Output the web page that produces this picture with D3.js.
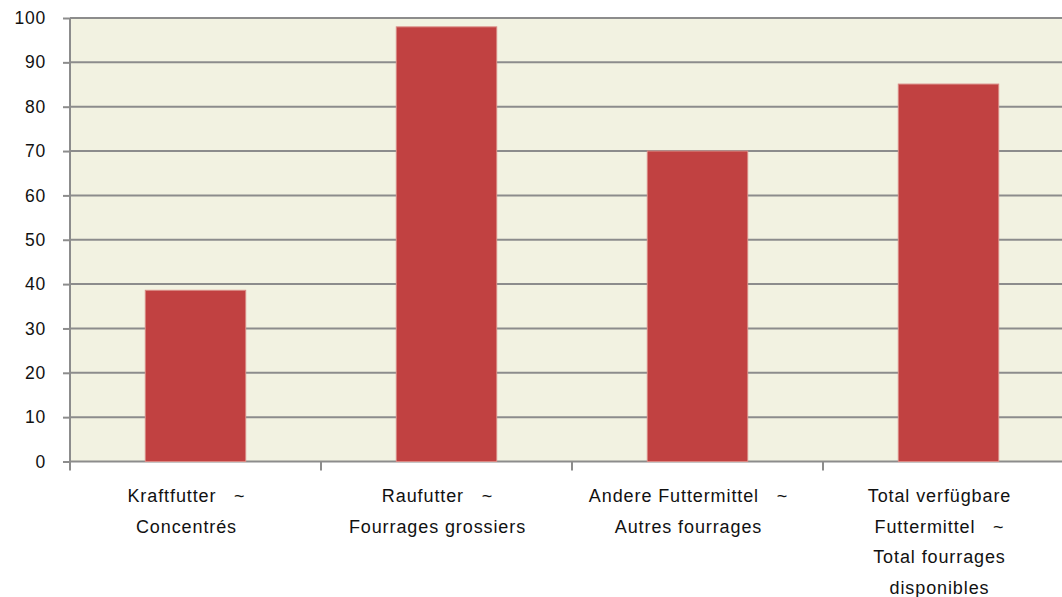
<!DOCTYPE html>
<html>
<head>
<meta charset="utf-8">
<script src="https://cdn.jsdelivr.net/npm/d3@7"></script>
<style>
  body { margin: 0; background: #fff; }
  svg text { font-family: "Liberation Sans", Arial, sans-serif; fill: #111; }
</style>
</head>
<body>
<main></main>
<script>
const categories = [
    ["Kraftfutter   ~", "Concentrés"],
    ["Raufutter   ~", "Fourrages grossiers"],
    ["Andere Futtermittel   ~", "Autres fourrages"],
    ["Total verfügbare", "Futtermittel   ~", "Total fourrages", "disponibles"]
];
const values = [38.6, 98.0, 70.0, 85.1];
const yTicks = [0, 10, 20, 30, 40, 50, 60, 70, 80, 90, 100];

const width = 1062;
const height = 597;
const margin = {top: 18, bottom: 135.5, left: 70, right: -12};

const svg = d3.select("main")
    .append("svg")
        .attr("width", width)
        .attr("height", height)
        .style("display", "block");

const x = d3.scaleBand()
    .domain(d3.range(categories.length))
    .range([margin.left, width - margin.right])
    .paddingInner(0.6)
    .paddingOuter(0.3);
const y = d3.scaleLinear()
    .domain([0, 100])
    .range([height - margin.bottom, margin.top]);

// plot background
svg.append("rect")
    .attr("x", margin.left)
    .attr("y", y(100))
    .attr("width", width - margin.right - margin.left)
    .attr("height", y(0) - y(100))
    .attr("fill", "#f2f2e1");

// y axis ticks and labels
const axis_y = svg.append("g")
    .attr("transform", `translate(${margin.left}, 0)`)
    .call(d3.axisLeft(y).tickValues(yTicks).tickSize(7).tickPadding(17))
    .call(g => g.select(".domain").remove());
axis_y.selectAll("line").attr("stroke", "#8c8c8c").attr("stroke-width", 2);
axis_y.selectAll("text").attr("font-size", 17.5).attr("letter-spacing", 0.8);

// gridlines
svg.append("g")
    .selectAll("line")
    .data(yTicks)
    .join("line")
        .attr("x1", margin.left)
        .attr("x2", width)
        .attr("y1", d => y(d))
        .attr("y2", d => y(d))
        .attr("stroke", "#8c8c8c")
        .attr("stroke-width", 2);

svg.append("line")
    .attr("x1", margin.left).attr("x2", margin.left)
    .attr("y1", y(100)).attr("y2", y(0) + 9)
    .attr("stroke", "#8c8c8c")
    .attr("stroke-width", 2);

// category boundary ticks
const plotW = width - margin.right - margin.left;
svg.append("g")
    .selectAll("line")
    .data(d3.range(1, categories.length + 1))
    .join("line")
        .attr("x1", i => margin.left + i * plotW / categories.length)
        .attr("x2", i => margin.left + i * plotW / categories.length)
        .attr("y1", y(0))
        .attr("y2", y(0) + 9)
        .attr("stroke", "#8c8c8c")
        .attr("stroke-width", 2);

// bars
svg.append("g")
    .selectAll("rect")
    .data(values)
    .join("rect")
        .attr("x", (d, i) => x(i))
        .attr("y", d => y(d))
        .attr("width", x.bandwidth())
        .attr("height", d => y(0) - y(d))
        .attr("fill", "#c14141")
        .attr("stroke", "#d98a84")
        .attr("stroke-width", 1);

// category labels
svg.append("g")
    .selectAll("text")
    .data(categories)
    .join("text")
        .attr("x", (d, i) => x(i) + x.bandwidth() / 2 - 9)
        .attr("y", 502)
        .attr("text-anchor", "middle")
        .attr("font-size", 18)
        .attr("letter-spacing", 0.9)
        .style("white-space", "pre")
    .selectAll("tspan")
    .data(d => d)
    .join("tspan")
        .attr("x", function() { return this.parentNode.getAttribute("x"); })
        .attr("dy", (d, i) => i === 0 ? 0 : 30.5)
        .text(d => d);
</script>
</body>
</html>
